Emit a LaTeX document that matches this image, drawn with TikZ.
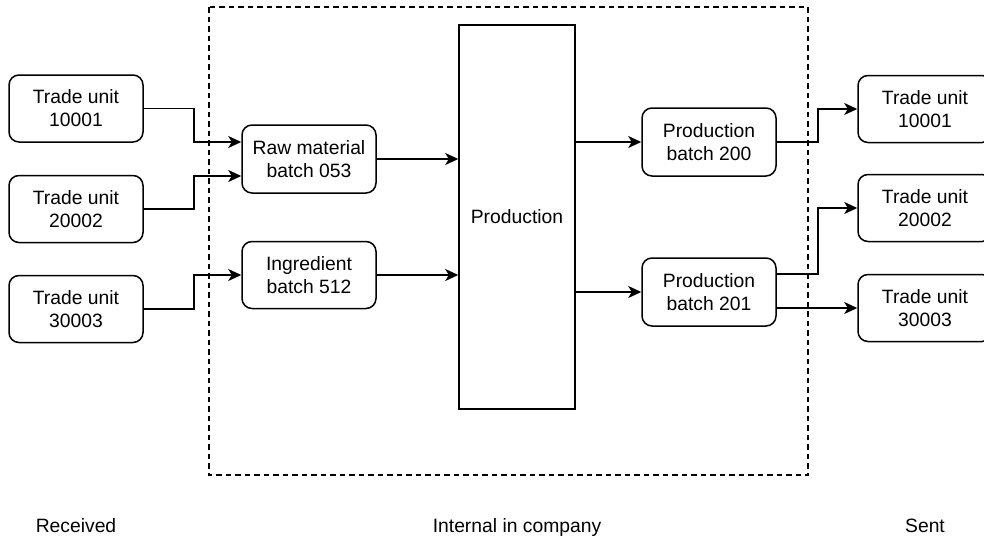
\documentclass[tikz,border=0pt]{standalone}
\usepackage{fontspec}
\setmainfont{Liberation Sans}
\usetikzlibrary{arrows.meta,calc}
\begin{document}
\begin{tikzpicture}[x=1pt,y=-1pt,
  every node/.style={font=\fontsize{19.3}{23.2}\selectfont, inner sep=0pt},
  unitbox/.style={draw, line width=1.5pt, rounded corners=10pt, align=center,
    minimum width=134pt, minimum height=67pt},
  prodbox/.style={draw, line width=1.5pt, align=center,
    minimum width=116pt, minimum height=384pt},
  arr/.style={line width=1.5pt, -{Stealth[length=13pt,width=12pt,inset=3.5pt]}},
  caption/.style={anchor=base}
]
\useasboundingbox (0,0) rectangle (984,538);

% company boundary
\draw[line width=1.3pt, dash pattern=on 5.5pt off 4pt] (209,7) rectangle (808,475);

% received trade units
\node[unitbox] (tu1) at (76,108.5) {Trade unit\\10001};
\node[unitbox] (tu2) at (76,209) {Trade unit\\20002};
\node[unitbox] (tu3) at (76,309) {Trade unit\\30003};

% input batches
\node[unitbox, minimum height=68pt] (raw) at (309,159) {Raw material\\batch 053};
\node[unitbox] (ing) at (309,275) {Ingredient\\batch 512};

% production step
\node[prodbox] (prod) at (517,217) {Production};

% output batches
\node[unitbox, minimum height=68pt] (pb200) at (709,142) {Production\\batch 200};
\node[unitbox, minimum height=68pt] (pb201) at (709,292) {Production\\batch 201};

% sent trade units
\node[unitbox] (out1) at (925,109) {Trade unit\\10001};
\node[unitbox] (out2) at (925,208) {Trade unit\\20002};
\node[unitbox] (out3) at (925,308) {Trade unit\\30003};

% connectors into the input batches
\draw[arr] (tu1.east) -- ++(50,0) |- ([yshift=17pt]raw.west);
\draw[arr] (tu2.east) -- ++(50,0) |- ([yshift=-17pt]raw.west);
\draw[arr] (tu3.east) -- ++(50,0) |- (ing.west);

% batches into production
\draw[arr] (raw.east) -- (raw.east -| prod.west);
\draw[arr] (ing.east) -- (ing.east -| prod.west);

% production into output batches
\draw[arr] (prod.east |- pb200.west) -- (pb200.west);
\draw[arr] (prod.east |- pb201.west) -- (pb201.west);

% output batches to sent trade units
\draw[arr] (pb200.east) -- ++(41,0) |- (out1.west);
\draw[arr] ([yshift=18pt]pb201.east) -- ++(41,0) |- (out2.west);
\draw[arr] (out3.west -| pb201.east) -- (out3.west);

% column captions
\node[caption] (recv) at (76,532) {Received};
\node[caption] (internal) at (517,532) {Internal in company};
\node[caption] (sent) at (925,532) {Sent};
\end{tikzpicture}
\end{document}
